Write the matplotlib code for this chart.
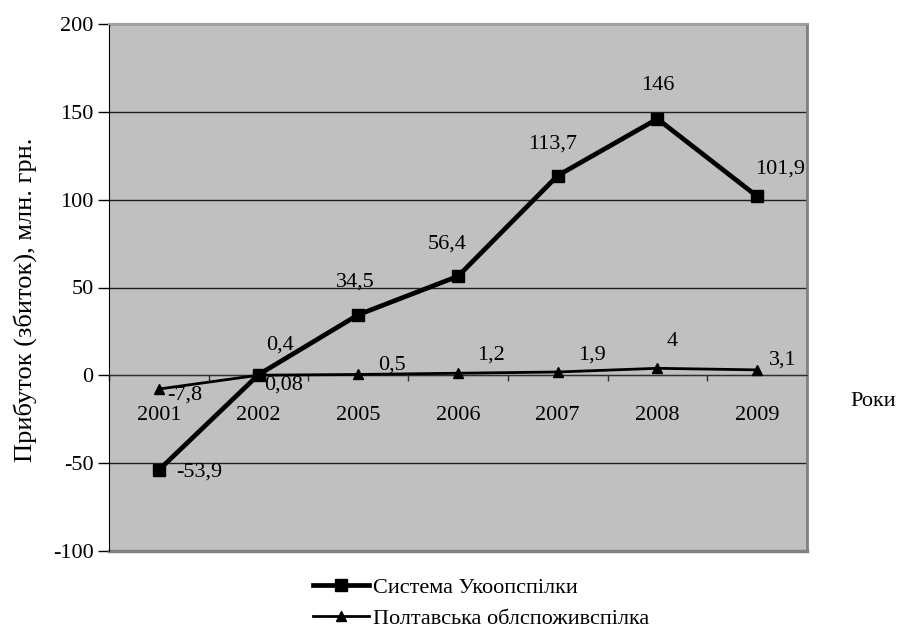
import numpy as np
import matplotlib.pyplot as plt
from matplotlib.ticker import FixedLocator

years = ["2001", "2002", "2005", "2006", "2007", "2008", "2009"]
ukoop = [-53.9, 0.4, 34.5, 56.4, 113.7, 146, 101.9]
poltava = [-7.8, 0.08, 0.5, 1.2, 1.9, 4, 3.1]
ukoop_text = ["-53,9", "0,4", "34,5", "56,4", "113,7", "146", "101,9"]
poltava_text = ["-7,8", "0,08", "0,5", "1,2", "1,9", "4", "3,1"]

# label offsets from the marker, in pixels
ukoop_off = [(40, -2), (21, 30), (-3, 33), (-11, 32), (-5, 32), (0, 33), (23, 27)]
poltava_off = [(26, -6), (25, -10), (34, 9), (33, 18), (34, 17), (15, 27), (26, 10)]

plt.rcParams["font.family"] = ["Liberation Serif", "DejaVu Serif"]
plt.rcParams["font.size"] = 16
plt.rcParams["axes.unicode_minus"] = False

fig = plt.figure(figsize=(9.01, 6.3), dpi=100)
ax = fig.add_axes([109 / 901, 1 - 551 / 630, 698 / 901, 527 / 630])
ax.set_facecolor("#c0c0c0")

x = np.arange(len(years))
ax.set_xlim(-0.5, len(years) - 0.5)
ax.set_ylim(-100, 200)
ax.set_yticks(np.arange(-100, 201, 50))
ax.yaxis.grid(True, color="#202020", linewidth=1)
ax.set_axisbelow(True)

l1, = ax.plot(x, ukoop, color="black", linewidth=3.4, marker="s",
              markersize=8, zorder=3)
l2, = ax.plot(x, poltava, color="black", linewidth=2.0, marker="^",
              markersize=7, zorder=3)

for i in range(len(years)):
    ax.annotate(ukoop_text[i], (x[i], ukoop[i]), xytext=ukoop_off[i],
                textcoords="offset pixels", ha="center", va="center")
    ax.annotate(poltava_text[i], (x[i], poltava[i]), xytext=poltava_off[i],
                textcoords="offset pixels", ha="center", va="center")

# category axis sits on the zero line
ax.spines["bottom"].set_position(("data", 0))
ax.spines["bottom"].set_color("#303030")
ax.set_xticks(x)
ax.set_xticklabels(years)
ax.xaxis.set_minor_locator(FixedLocator(np.arange(-0.5, len(years), 1.0)))
ax.tick_params(axis="x", which="major", length=0, pad=22)
ax.tick_params(axis="x", which="minor", length=4.5, width=1, color="#303030",
               direction="out")
ax.tick_params(axis="y", length=8, width=1, pad=3)

ax.spines["left"].set_color("black")
ax.spines["right"].set_color("#808080")
ax.spines["right"].set_linewidth(2)
ax.spines["top"].set_color("#a0a0a0")
ax.spines["top"].set_linewidth(1.5)
ax.plot([0, 1], [0, 0], transform=ax.transAxes, color="#808080",
        linewidth=2.5, clip_on=False)

ax.set_ylabel("Прибуток (збиток), млн. грн.", fontsize=19)
ax.yaxis.set_label_coords(-0.103, 0.476)
fig.text(873 / 901, 1 - 401 / 630, "Роки", ha="center", va="center")

fig.legend([l1, l2], ["Система Укоопспілки", "Полтавська облспоживспілка"],
           loc="upper left", bbox_to_anchor=(313 / 901, 1 - 577 / 630),
           frameon=False, handlelength=2.5, handletextpad=0.2,
           labelspacing=0.5, borderpad=0, borderaxespad=0)

fig.savefig("out.png", dpi=100)
